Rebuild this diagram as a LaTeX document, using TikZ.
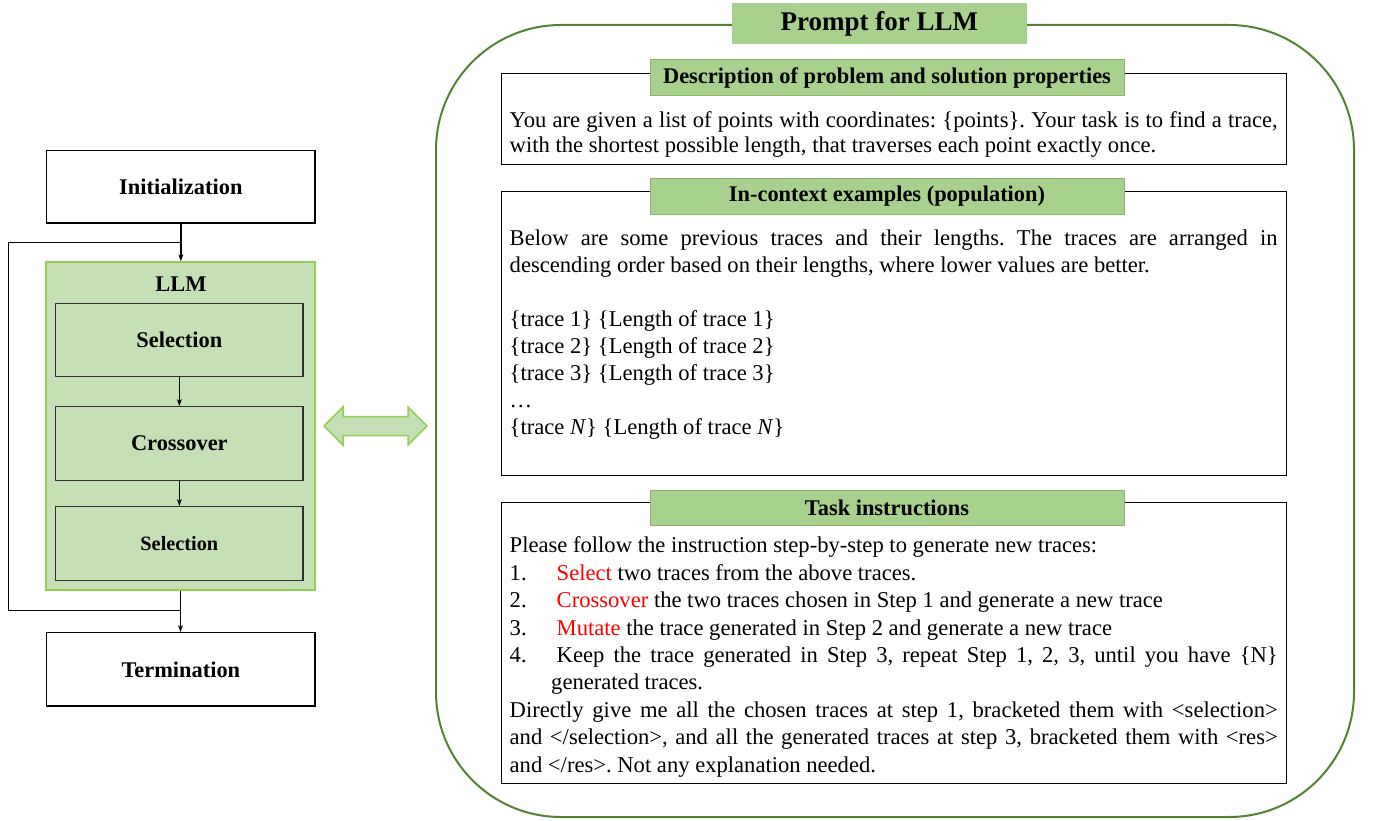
\documentclass[tikz,border=0pt]{standalone}
\usepackage{fontspec}
\setmainfont{Liberation Serif}
\usetikzlibrary{arrows.meta}
\definecolor{ltgreen}{HTML}{C5E0B4}
\definecolor{hdgreen}{HTML}{A9D18E}
\definecolor{brgreen}{HTML}{92D050}
\definecolor{dkgreen}{HTML}{548235}
\definecolor{hdborder}{HTML}{8CB46C}
\definecolor{boxgray}{HTML}{303030}
\newcommand\myBody[1]{\fontsize{22.6}{#1}\selectfont\frenchspacing\parindent=0pt\hyphenpenalty=10000\exhyphenpenalty=10000}
\newcommand\myRed[1]{\textcolor{red}{#1}}
\begin{document}
\begin{tikzpicture}[x=1pt,y=-1pt,
  flowbox/.style={draw=black,line width=1.2pt,fill=white,inner sep=0pt,
    font=\fontsize{22.4}{26}\selectfont\bfseries},
  stagebox/.style={draw=boxgray,line width=1.2pt,fill=ltgreen,inner sep=0pt,
    minimum width=247.3pt,minimum height=73.5pt},
  flowarrow/.style={line width=1.3pt,-{Stealth[length=7pt,width=5pt]}},
  loopline/.style={line width=1.3pt},
  secbox/.style={draw=black,line width=1pt,fill=white,inner sep=0pt,minimum width=785pt},
  hdrbox/.style={draw=hdborder,line width=1pt,fill=hdgreen,inner sep=0pt,
    minimum width=474pt,font=\fontsize{22.4}{26}\selectfont\bfseries},
  bodytext/.style={anchor=north west,inner sep=0pt,text width=768pt,align=justify}
]
\useasboundingbox (0,0) rectangle (1375,821);

% ---------- left flow ----------
\node[flowbox,minimum width=268.3pt,minimum height=72.3pt] (init) at (180.85,186.85) {Initialization};
\node[draw=brgreen,line width=1.5pt,fill=ltgreen,inner sep=0pt,minimum width=269pt,minimum height=328pt] (llm) at (180.5,426) {};
\node[anchor=base,font=\fontsize{22.4}{26}\selectfont\bfseries] (llmlabel) at (181,291.7) {LLM};
\node[stagebox,font=\fontsize{22.4}{26}\selectfont\bfseries] (sel1) at (179.35,339.85) {Selection};
\node[stagebox,font=\fontsize{22.4}{26}\selectfont\bfseries] (cross) at (179.35,443.35) {Crossover};
\node[stagebox,font=\fontsize{20.3}{24}\selectfont\bfseries] (sel2) at (179.35,543.35) {Selection};
\node[flowbox,minimum width=268.3pt,minimum height=73.3pt] (term) at (180.85,669.35) {Termination};

\draw[flowarrow] (init.south) -- (init.south |- llm.north);
\draw[flowarrow] (sel1.south) -- (cross.north);
\draw[flowarrow] (cross.south) -- (sel2.north);
\draw[flowarrow] (llm.south) -- (llm.south |- term.north);

\coordinate (jt) at (180.85,242.7);
\coordinate (lt) at (8.3,242.7);
\coordinate (lb) at (8.3,610.7);
\coordinate (jb) at (180.5,610.7);
\draw[loopline] (jb) -- (lb) -- (lt) -- (jt);

% ---------- double arrow ----------
\draw[fill=ltgreen,draw=brgreen,line width=1.5pt,line join=miter]
  (324,426) -- (343,407) -- (343,416.5) -- (408,416.5) -- (408,407) -- (427,426)
  -- (408,445) -- (408,435.5) -- (343,435.5) -- (343,445) -- cycle;

% ---------- prompt frame ----------
\node[draw=dkgreen,line width=2pt,rounded corners=125pt,inner sep=0pt,
  minimum width=918pt,minimum height=792pt] (frame) at (895,421) {};
\node[fill=hdgreen,inner sep=0pt,minimum width=295pt,minimum height=41pt,
  font=\fontsize{27}{30}\selectfont\bfseries] (title) at (879.4,23.8) {Prompt for LLM};

% ---------- section 1 ----------
\node[secbox,minimum height=91pt] (sec1) at (894,118.8) {};
\node[hdrbox,minimum height=36.4pt] (hdr1) at (887,77.5) {Description of problem and solution properties};
\node[bodytext] (txt1) at (509.5,109.3) {\myBody{26}\strut You are given a list of points with coordinates: \{points\}. Your task is to find a trace, with the shortest possible length, that traverses each point exactly once.};

% ---------- section 2 ----------
\node[secbox,minimum height=284pt] (sec2) at (894,333.7) {};
\node[hdrbox,minimum height=35pt] (hdr2) at (887,196.5) {In-context examples (population)};
\node[bodytext] (txt2) at (509.5,226.1) {\myBody{27}\strut Below are some previous traces and their lengths. The traces are arranged in descending order based on their lengths, where lower values are better.\par
\strut\par
\{trace 1\} \{Length of trace 1\}\par
\{trace 2\} \{Length of trace 2\}\par
\{trace 3\} \{Length of trace 3\}\par
…\par
\{trace \textit{N}\} \{Length of trace \textit{N}\}\par};

% ---------- section 3 ----------
\node[secbox,minimum height=280.6pt] (sec3) at (894,643) {};
\node[hdrbox,minimum height=35.7pt] (hdr3) at (887,507.85) {Task instructions};
\node[bodytext] (txt3) at (509.5,533.5) {\myBody{27.4}\strut Please follow the instruction step-by-step to generate new traces:\par
\makebox[47pt][l]{1.}\myRed{Select} two traces from the above traces.\par
\makebox[47pt][l]{2.}\myRed{Crossover} the two traces chosen in Step 1 and generate a new trace\par
\makebox[47pt][l]{3.}\myRed{Mutate} the trace generated in Step 2 and generate a new trace\par
{\hangindent=41.5pt\hangafter=1\makebox[47pt][l]{4.}Keep the trace generated in Step 3, repeat Step 1, 2, 3, until you have \{N\}\linebreak generated traces.\par}
Directly give me all the chosen traces at step 1, bracketed them with <selection>\linebreak and </selection>, and all the generated traces at step 3, bracketed them with <res>\linebreak and </res>. Not any explanation needed.\par};
\end{tikzpicture}
\end{document}
